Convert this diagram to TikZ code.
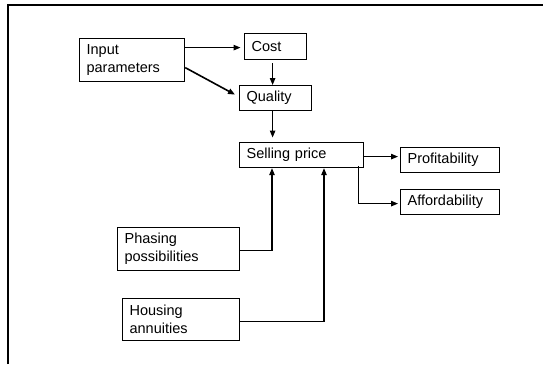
\documentclass[tikz,border=0pt]{standalone}
\usepackage{fontspec}
\setmainfont{Liberation Sans}
\usetikzlibrary{arrows.meta}
\begin{document}
\begin{tikzpicture}[x=1pt,y=-1pt,
  box/.style={draw=black, line width=1.2pt, rectangle, anchor=north west,
    inner xsep=7pt, inner ysep=0pt, align=left,
    font=\fontsize{14.5}{18}\selectfont},
  arr/.style={line width=1.1pt, -{Triangle[length=7pt,width=5.5pt]}},
  ln/.style={line width=1.1pt}]
\useasboundingbox (0,0) rectangle (543,364);
% frame
\draw[line width=2.5pt] (8,364) -- (8,5) -- (543,5);
% boxes
\node[box, text width=91pt, minimum height=43pt] (inp) at (79,38) {Input\\parameters};
\node[box, text width=48pt, minimum height=26pt] (cost) at (244,33) {Cost};
\node[box, text width=58pt, minimum height=25pt] (qual) at (239,85) {Quality};
\node[box, text width=110pt, minimum height=25pt] (sell) at (239,142) {Selling price};
\node[box, text width=85pt, minimum height=25pt] (prof) at (400,147) {Profitability};
\node[box, text width=85pt, minimum height=25pt] (aff) at (400,189) {Affordability};
\node[box, text width=108pt, minimum height=43pt] (phase) at (117,227) {Phasing\\possibilities};
\node[box, text width=103pt, minimum height=42pt] (house) at (122,298) {Housing\\annuities};
% connectors
\draw[arr, shorten >=3.5pt] ([yshift=12.5pt]inp.east) -- ([yshift=12.5pt]inp.east -| cost.west);
\draw[arr, line width=1.6pt] ([yshift=-7.5pt]inp.east) -- ([xshift=-4pt,yshift=3.5pt]qual.west);
\draw[arr, shorten <=3pt] ([xshift=-3pt]cost.south) -- ([xshift=-3pt]qual.north);
\draw[arr, shorten >=4.5pt] ([xshift=-3pt]qual.south) -- ([xshift=-3pt]qual.south |- sell.north);
\draw[arr, shorten >=2pt] ([yshift=-1.5pt]sell.east) -- ([yshift=-1.5pt]sell.east -| prof.west);
\draw[arr, shorten >=2pt] ([xshift=-6pt,yshift=2pt]sell.south east) |- ([yshift=-1.5pt]aff.west);
\draw[arr] ([yshift=-1.5pt]phase.east) -| ([xshift=33pt]sell.south west);
\draw[arr] ([yshift=-2pt]house.east) -| ([xshift=85pt]sell.south west);
\end{tikzpicture}
\end{document}
